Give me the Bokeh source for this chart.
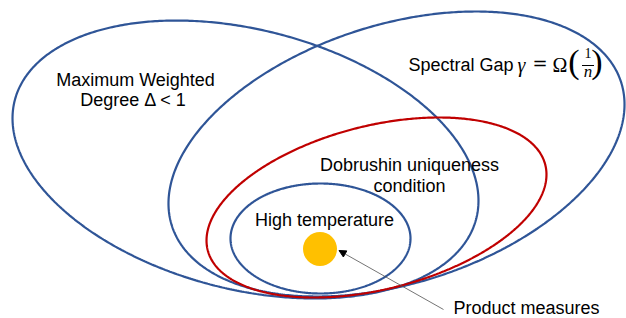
import numpy as np
from bokeh.plotting import figure
from bokeh.models import Range1d, Arrow, NormalHead, ColumnDataSource
from bokeh.core.properties import value
from bokeh.embed import file_html
from bokeh.resources import INLINE

# ---------------- data ----------------
ellipse_names = ["Maximum Weighted Degree", "Spectral Gap", "Dobrushin uniqueness", "High temperature"]
ellipse_cx = [245.0, 396.0, 376.0, 320.0]
ellipse_cy = [159.0, 153.5, 207.0, 238.0]
ellipse_semi_major = [238.2, 235.8, 174.1, 90.0]
ellipse_semi_minor = [129.8, 129.2, 81.75, 55.0]
ellipse_tilt_deg = [14.38, -17.74, -14.18, 0.0]

product_x = [319.5]
product_y = [248.5]
product_r = [17.0]

# ---------------- style ----------------
BLUE = "#2F5597"
RED = "#C00000"
GOLD = "#FFC000"
ellipse_colors = [BLUE, BLUE, RED, BLUE]
SANS = value("Liberation Sans")
SERIF = value("Liberation Serif")
DY = -8  # text placement correction

p = figure(width=626, height=318, output_backend="svg", toolbar_location=None,
           title=None, x_axis_location=None, y_axis_location=None,
           x_range=Range1d(0, 626), y_range=Range1d(318, 0),
           min_border=0, min_border_left=0, min_border_right=0,
           min_border_top=0, min_border_bottom=0)
p.grid.visible = False
p.outline_line_color = None
p.background_fill_color = "white"
p.border_fill_color = "white"

t = np.linspace(0, 2 * np.pi, 600)
xs, ys = [], []
for cx, cy, a, b, th in zip(ellipse_cx, ellipse_cy, ellipse_semi_major, ellipse_semi_minor, ellipse_tilt_deg):
    r = np.deg2rad(th)
    xs.append(cx + a * np.cos(r) * np.cos(t) - b * np.sin(r) * np.sin(t))
    ys.append(cy + a * np.sin(r) * np.cos(t) + b * np.cos(r) * np.sin(t))

p.multi_line(xs=xs, ys=ys, line_color=ellipse_colors, line_width=2.2)

p.ellipse(x=product_x, y=product_y, width=[2 * r for r in product_r],
          height=[2 * r for r in product_r], fill_color=GOLD, line_color=None)

# arrow
p.add_layout(Arrow(end=NormalHead(size=7, fill_color="black", line_color="black"),
                   x_start=443, y_start=309, x_end=338.5, y_end=250,
                   line_width=0.8, line_color="#505050"))

# labels (centered)
lab = ColumnDataSource(dict(
    x=[135, 133, 409, 409, 324, 526],
    y=[87 + DY, 107 + DY, 172 + DY, 193 + DY, 227 + DY, 315 + DY],
    text=["Maximum Weighted", "Degree \u0394 < 1", "Dobrushin uniqueness", "condition",
          "High temperature", "Product measures"]))
p.text(x="x", y="y", text="text", source=lab, text_font=SANS, text_font_size="18px",
       text_align="center", text_baseline="alphabetic", text_color="black")

# Spectral gap formula
p.text(x=[408], y=[72 + DY], text=["Spectral Gap"], text_font=SANS, text_font_size="18px",
       text_align="left", text_baseline="alphabetic", text_color="black")
p.text(x=[517], y=[72 + DY], text=["\u03b3"], text_font=SERIF, text_font_size="20px",
       text_font_style="italic", text_align="left", text_baseline="alphabetic", text_color="black")
p.text(x=[539.5], y=[62], text=["="], text_font=value("DejaVu Sans"), text_font_size="18px",
       text_align="center", text_baseline="middle", text_color="black")
p.text(x=[559.5], y=[72 + DY], text=["\u03a9"], text_font=SERIF, text_font_size="20px",
       text_align="center", text_baseline="alphabetic", text_color="black")
p.text(x=[573.5, 596.5], y=[61, 61], text=["(", ")"], text_font=SERIF, text_font_size="34px",
       text_align="center", text_baseline="middle", text_color="black")
p.text(x=[587.5], y=[60.5 + DY], text=["1"], text_font=SERIF, text_font_size="14px",
       text_align="center", text_baseline="alphabetic", text_color="black")
p.segment(x0=[581.5], y0=[65], x1=[593.5], y1=[65], line_color="black", line_width=1)
p.text(x=[587.5], y=[78.5 + DY], text=["n"], text_font=SERIF, text_font_size="17px",
       text_font_style="italic", text_align="center", text_baseline="alphabetic", text_color="black")

open("out.html", "w").write(file_html(p, INLINE))
